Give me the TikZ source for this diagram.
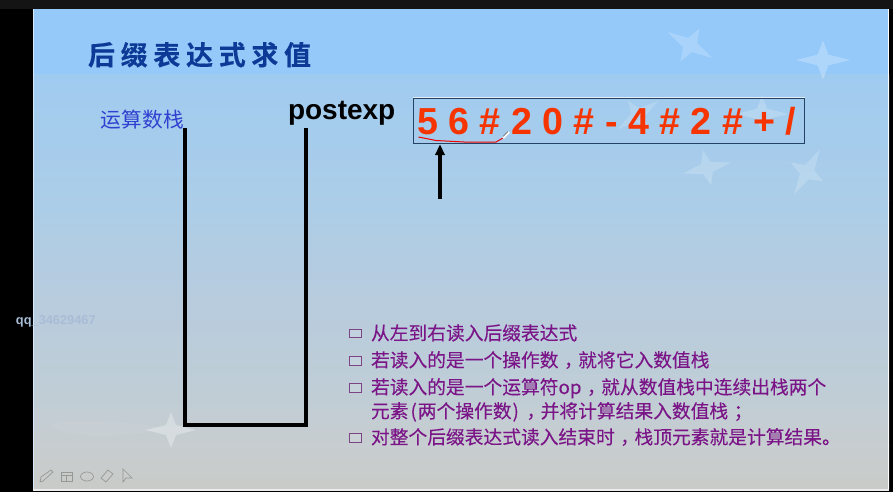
\documentclass[tikz,border=0pt]{standalone}
\usepackage{fontspec}
\setmainfont{Liberation Sans}
\newfontfamily\cjk[FakeBold=0.12]{Noto Sans CJK SC}
\newfontfamily\cjktitle[LetterSpace=21,FakeBold=0.3]{Noto Sans CJK SC Bold}
\newfontfamily\cjklabel[LetterSpace=2]{Noto Sans CJK SC}
\definecolor{bgA}{RGB}{148,201,250}
\definecolor{bgB}{RGB}{160,203,240}
\definecolor{bgC}{RGB}{171,205,232}
\definecolor{bgD}{RGB}{184,204,222}
\definecolor{bgE}{RGB}{190,205,215}
\definecolor{bgF}{RGB}{199,205,208}
\definecolor{bgG}{RGB}{201,203,200}
\definecolor{titleblue}{RGB}{12,58,150}
\definecolor{labelblue}{RGB}{48,64,208}
\definecolor{exprred}{RGB}{246,52,0}
\definecolor{notepurple}{RGB}{122,20,135}
\definecolor{boxedge}{RGB}{36,66,100}
\definecolor{toolgray}{RGB}{150,152,150}
\definecolor{wmark}{RGB}{168,188,214}
\tikzset{
  x=1pt,y=-1pt,
  txt/.style={inner sep=0pt,outer sep=0pt,anchor=base west},
  note/.style={txt,text=notepurple,font=\cjk\fontsize{18.75}{18.75}\selectfont},
  bulletbox/.style={draw=notepurple!55!gray,line width=.9pt,fill=white,fill opacity=.12,minimum width=12pt,minimum height=8.5pt,inner sep=0pt,outer sep=0pt},
  stackline/.style={line width=4pt,line join=miter,line cap=butt,black},
  toolicon/.style={draw=toolgray,line width=.7pt,fill=none},
}
% punctuation centred in its cell, as the slide prints it
\newcommand{\ctrp}[1]{\hspace{5.5pt}#1\hspace{-4.5pt}}
\newcommand{\slidestar}[5]{%
  \begin{scope}[shift={(#1,#2)},rotate=#3]
    \fill[white,opacity=#5] (-#4,0) -- (-.2*#4,-.2*#4) -- (0,-.72*#4) -- (.2*#4,-.2*#4)
      -- (#4,0) -- (.2*#4,.2*#4) -- (0,.72*#4) -- (-.2*#4,.2*#4) -- cycle;
  \end{scope}}
\begin{document}
\begin{tikzpicture}
\useasboundingbox (0,0) rectangle (893,492);
% frame
\fill[black] (0,0) rectangle (893,492);
\fill[black!92!white] (0,0) rectangle (893,9);
% slide background
\fill[bgA] (33,9) rectangle (889,75);
\shade[top color=bgB,bottom color=bgC] (33,75) rectangle (889,200);
\shade[top color=bgC,bottom color=bgD] (33,200) rectangle (889,300);
\shade[top color=bgD,bottom color=bgE] (33,300) rectangle (889,380);
\shade[top color=bgE,bottom color=bgF] (33,380) rectangle (889,445);
\shade[top color=bgF,bottom color=bgG] (33,445) rectangle (889,489);
\fill[white!85!gray] (33,489) rectangle (889,490.5);
\fill[white] (888,9) rectangle (889,489);
\fill[white!60!bgA] (33,9) rectangle (34,489);
% stars
\slidestar{690}{45}{-30}{26}{.2}
\slidestar{823}{60}{0}{27}{.25}
\slidestar{638}{115}{35}{25}{.16}
\slidestar{762}{114}{0}{26}{.2}
\slidestar{707}{168}{13}{25}{.18}
\slidestar{807}{172}{60}{26}{.18}
\slidestar{171}{430}{0}{25}{.3}
% faint cloud near the bottom
\fill[white,opacity=.05] (52,425) .. controls (52,418) and (120,420) .. (165,428) .. controls (120,440) and (60,438) .. (52,425) -- cycle;
% title and labels
\node[txt,text=titleblue,font=\cjktitle\fontsize{27}{27}\selectfont] (title) at (88,65) {后缀表达式求值};
\node[txt,text=labelblue,font=\cjklabel\fontsize{20.7}{20.7}\selectfont] (stacklabel) at (100,127) {运算数栈};
\node[txt,font=\bfseries\fontsize{28}{28}\selectfont] (postexp) at (288,120) {postexp};
% expression box
\node[draw=boxedge,line width=.8pt,minimum width=391pt,minimum height=45pt,inner sep=0pt,outer sep=0pt,anchor=north west] (exprbox) at (413.5,98) {};
\draw[white!70!bgB,line width=.6pt] (413,97) -- (804.5,97);
\node[txt,text=exprred,font=\bfseries\fontsize{37.6}{37.6}\selectfont] (expr) at (417,135) {5 6 \# 2 0 \# - 4 \# 2 \# + /};
% freehand underline and pen
\coordinate (penA) at (418.5,137);
\coordinate (penB) at (436,140.5);
\coordinate (penC) at (464,142);
\coordinate (penD) at (496,142);
\coordinate (penE) at (503,138);
\draw[red!95!black,line width=1pt,line join=round] (penA) -- (penB) -- (penC) -- (penD) -- (penE);
\coordinate (cursorA) at (503,138);
\coordinate (cursorB) at (509,132);
\draw[white,line width=2.2pt] (cursorA) -- (cursorB);
\draw[black!70,line width=.5pt] (503,136.5) -- (508,131.5);
% arrow
\coordinate (arrowtail) at (440,199);
\coordinate (arrowtip) at (440,144.5);
\fill[black] (arrowtip) -- (445,155) -- (435,155) -- cycle;
\draw[black,line width=4pt] (arrowtail) -- (440,154);
% stack
\coordinate (stackTL) at (185,128);
\coordinate (stackBL) at (185,425);
\coordinate (stackBR) at (306,425);
\coordinate (stackTR) at (306,128);
\draw[stackline] (stackTL) -- (stackBL) -- (stackBR) -- (stackTR);
% notes
\node[bulletbox] (b1) at (355.5,333.5) {};
\node[bulletbox] (b2) at (355.5,361) {};
\node[bulletbox] (b3) at (355.5,388) {};
\node[bulletbox] (b4) at (355.5,438) {};
\node[note] (n1) at (371,340) {从左到右读入后缀表达式};
\node[note] (n2) at (371,367) {若读入的是一个操作数\ctrp{，}就将它入数值栈};
\node[note] (n3) at (371,394) {若读入的是一个运算符op\ctrp{，}就从数值栈中连续出栈两个};
\node[note] (n4) at (371,418) {元素\hspace{2pt}(\hspace{1pt}两个操作数\hspace{1pt})\hspace{2pt}\ctrp{，}并将计算结果入数值栈\ctrp{；}};
\node[note] (n5) at (371,444) {对整个后缀表达式读入结束时\ctrp{，}栈顶元素就是计算结果。};
% watermark
\node[txt,text=wmark,font=\bfseries\fontsize{12.8}{12.8}\selectfont] (wm) at (16,324) {qq\_34629467};
% toolbar icons
\draw[toolicon] (40,482) -- (41,477) -- (51,470) -- (53,472) -- (43,481) -- cycle;
\draw[toolicon] (61,472) rectangle (72,481);
\draw[toolicon] (61,475) -- (72,475) (66.5,475) -- (66.5,481);
\draw[toolicon] (87,476.5) ellipse [x radius=6.5pt,y radius=4.5pt];
\draw[toolicon] (101,478) -- (108,470) -- (113,474) -- (106,482) -- cycle;
\draw[toolicon] (123,469) -- (123,482) -- (126,478) -- (132,478) -- cycle;
\end{tikzpicture}
\end{document}
